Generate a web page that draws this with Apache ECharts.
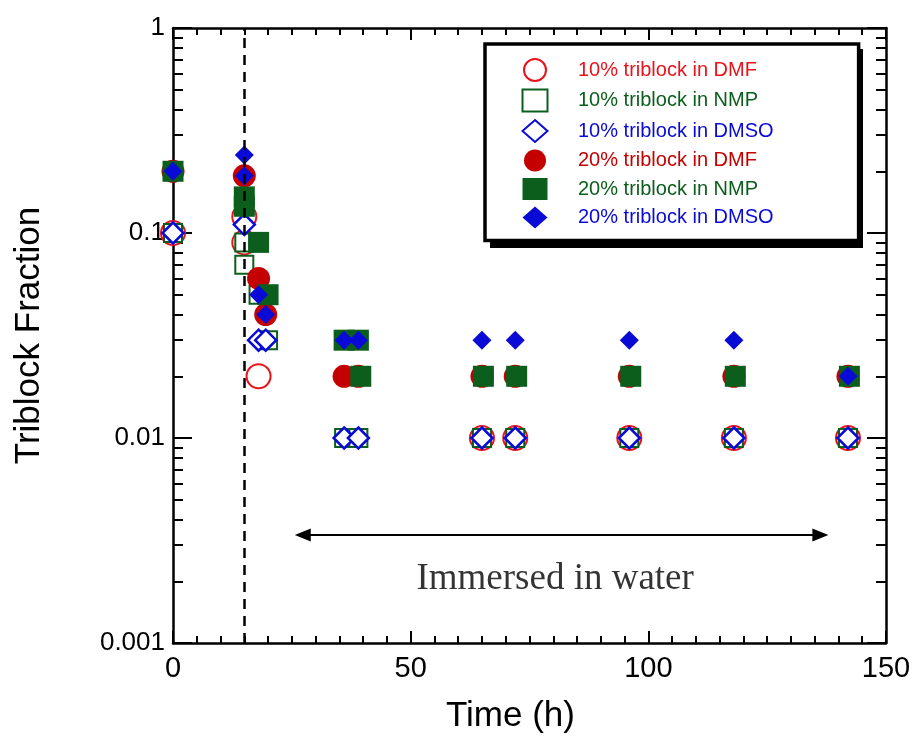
<!DOCTYPE html>
<html>
<head>
<meta charset="utf-8">
<script src="https://cdn.jsdelivr.net/npm/echarts@6/dist/echarts.min.js"></script>
<style>
html,body{margin:0;padding:0;background:#fff;}
#chart{width:917px;height:742px;}
</style>
</head>
<body>
<div id="chart"></div>
<script>
// ---- data ----
const seriesNames = [
  '10% triblock in DMF', '10% triblock in NMP', '10% triblock in DMSO',
  '20% triblock in DMF', '20% triblock in NMP', '20% triblock in DMSO'
];
const dmf10 = [[0,0.1],[15,0.12],[15,0.09],[18,0.02],[65,0.01],[72,0.01],[96,0.01],[118,0.01],[142,0.01]];
const nmp10 = [[0,0.1],[15,0.09],[15,0.07],[18,0.05],[20,0.03],[36,0.01],[39,0.01],[65,0.01],[72,0.01],[96,0.01],[118,0.01],[142,0.01]];
const dmso10 = [[0,0.1],[15,0.11],[18,0.03],[19.5,0.03],[36,0.01],[39,0.01],[65,0.01],[72,0.01],[96,0.01],[118,0.01],[142,0.01]];
const dmf20 = [[0,0.2],[15,0.19],[18,0.06],[19.5,0.04],[36,0.02],[39,0.02],[65,0.02],[72,0.02],[96,0.02],[118,0.02],[142,0.02]];
const nmp20 = [[0,0.2],[15,0.15],[15,0.135],[18,0.09],[20,0.05],[36,0.03],[39,0.03],[39.5,0.02],[65.3,0.02],[72.3,0.02],[96.3,0.02],[118.3,0.02],[142.3,0.02]];
const dmso20 = [[0,0.2],[15,0.24],[15,0.19],[18,0.05],[19.5,0.04],[36,0.03],[39,0.03],[65,0.03],[72,0.03],[96,0.03],[118,0.03],[142,0.02]];
const xTicks = [0, 50, 100, 150];
const yTickLabels = ['0.001', '0.01', '0.1', '1'];
const yMinorValues = [0.002,0.003,0.004,0.005,0.006,0.007,0.008,0.009,
                      0.02,0.03,0.04,0.05,0.06,0.07,0.08,0.09,
                      0.2,0.3,0.4,0.5,0.6,0.7,0.8,0.9];
const immersionTime = 15;
const arrowX = [27.3, 136.2];
const arrowY = 0.00336;
const annotText = 'Immersed in water';
const annotPos = [80.4, 0.00205];

// ---- styles ----
const RED = '#e8131b', RED2 = '#c40000', GREEN = '#0b5e1c', BLUE = '#0a0ad6';
const AX = '#000';
const FONT = '"Liberation Sans", Arial, sans-serif';

const chart = echarts.init(document.getElementById('chart'), null, {renderer:'canvas'});

function yAxisBase(pos, labels, minor) {
  return {
    type: 'log', logBase: 10, min: 0.001, max: 1, position: pos,
    axisLine: {show: !minor, lineStyle: {color: AX, width: 2.5}},
    axisTick: minor
      ? {show: true, inside: true, length: 10, lineStyle: {color: AX, width: 2}, customValues: yMinorValues}
      : {show: true, inside: true, length: 19, lineStyle: {color: AX, width: 2}},
    axisLabel: labels
      ? {show: true, color: '#000', fontFamily: FONT, fontSize: 26, margin: 8,
         formatter: v => { const s = String(+(+v).toPrecision(3)); return yTickLabels.includes(s) ? s : ''; }}
      : {show: false},
    splitLine: {show: false}, minorTick: {show: false}
  };
}

const LEG = {left: 485, top: 44, w: 373, h: 199, shadow: 5};

const option = {
  animation: false,
  backgroundColor: '#fff',
  grid: {left: 173, right: 31, top: 28, bottom: 99, containLabel: false},
  graphic: [
    {type: 'rect', z: 1, silent: true,
     shape: {x: LEG.left + LEG.shadow, y: LEG.top + LEG.shadow, width: LEG.w, height: LEG.h},
     style: {fill: '#000'}}
  ],
  xAxis: [
    {type: 'value', min: xTicks[0], max: xTicks[xTicks.length-1], interval: 50, position: 'bottom',
     name: 'Time (h)', nameLocation: 'middle', nameGap: 56,
     nameTextStyle: {fontFamily: FONT, fontSize: 35, color: '#000', padding: [0, 38, 0, 0]},
     axisLine: {lineStyle: {color: AX, width: 2.5}},
     axisTick: {inside: true, length: 12, lineStyle: {color: AX, width: 2}},
     minorTick: {show: true, splitNumber: 10, length: 7, lineStyle: {color: AX, width: 2}},
     axisLabel: {fontFamily: FONT, fontSize: 29, color: '#000', margin: 11},
     splitLine: {show: false}},
    {type: 'value', min: xTicks[0], max: xTicks[xTicks.length-1], interval: 50, position: 'top',
     axisLine: {lineStyle: {color: AX, width: 2.5}},
     axisTick: {inside: true, length: 12, lineStyle: {color: AX, width: 2}},
     minorTick: {show: true, splitNumber: 10, length: 7, lineStyle: {color: AX, width: 2}},
     axisLabel: {show: false}, splitLine: {show: false}}
  ],
  yAxis: [
    Object.assign(yAxisBase('left', true, false), {
      name: 'Triblock Fraction', nameLocation: 'middle', nameGap: 126,
      nameTextStyle: {fontFamily: FONT, fontSize: 35, color: '#000'}}),
    yAxisBase('left', false, true),
    yAxisBase('right', false, false),
    yAxisBase('right', false, true)
  ],
  legend: {
    orient: 'vertical', left: LEG.left, top: LEG.top, z: 4,
    padding: [14, 85, 12, 36.5],
    itemWidth: 25, itemHeight: 22, itemGap: 6.5,
    backgroundColor: '#fff', borderColor: '#000', borderWidth: 3.5, borderRadius: 0,
    textStyle: {fontFamily: FONT, fontSize: 20, padding: [0, 0, 0, 25.5]},
    data: [
      {name: seriesNames[0], textStyle: {color: RED}},
      {name: seriesNames[1], textStyle: {color: GREEN}},
      {name: seriesNames[2], textStyle: {color: BLUE}},
      {name: seriesNames[3], textStyle: {color: RED2}},
      {name: seriesNames[4], textStyle: {color: GREEN}},
      {name: seriesNames[5], textStyle: {color: BLUE}}
    ],
    selectedMode: false
  },
  series: [
    {name: seriesNames[0], type: 'scatter', data: dmf10, symbol: 'circle', symbolSize: 24,
     itemStyle: {color: '#fff', borderColor: RED, borderWidth: 2, opacity: 1},
     markLine: {silent: true, symbol: 'none', label: {show: false},
       lineStyle: {color: '#000', width: 2.5, type: [10, 7]},
       data: [{xAxis: immersionTime}]}},
    {name: seriesNames[1], type: 'scatter', data: nmp10, symbol: 'rect', symbolSize: 18,
     itemStyle: {color: '#fff', borderColor: GREEN, borderWidth: 2, opacity: 1}},
    {name: seriesNames[2], type: 'scatter', data: dmso10, symbol: 'diamond', symbolSize: 21,
     itemStyle: {color: '#fff', borderColor: BLUE, borderWidth: 2.5, opacity: 1}},
    {name: seriesNames[3], type: 'scatter', data: dmf20, symbol: 'circle', symbolSize: 23,
     itemStyle: {color: RED2, opacity: 1}},
    {name: seriesNames[4], type: 'scatter', data: nmp20, symbol: 'rect', symbolSize: 21,
     itemStyle: {color: GREEN, opacity: 1}},
    {name: seriesNames[5], type: 'scatter', data: dmso20, symbol: 'diamond', symbolSize: 19,
     itemStyle: {color: BLUE, opacity: 1}},
    {name: 'annotation', type: 'scatter', data: [annotPos], symbolSize: 0, silent: true,
     label: {show: true, position: 'inside', formatter: annotText,
       fontFamily: '"Liberation Serif", "Times New Roman", serif', fontSize: 37, color: '#000'},
     markLine: {silent: true, symbol: ['triangle', 'triangle'], symbolSize: [13, 16],
       label: {show: false},
       lineStyle: {color: '#000', width: 2, type: 'solid'},
       data: [[{coord: [arrowX[0], arrowY]}, {coord: [arrowX[1], arrowY]}]]}}
  ]
};
chart.setOption(option);
</script>
</body>
</html>
